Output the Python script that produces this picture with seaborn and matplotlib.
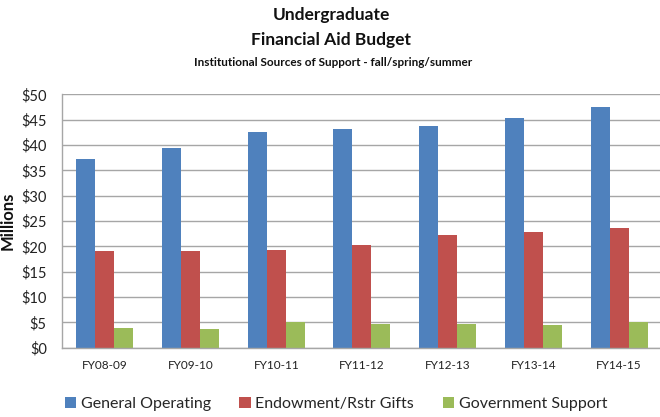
import matplotlib
matplotlib.use("Agg")
import matplotlib.pyplot as plt
import seaborn as sns
import pandas as pd

years = ["FY08-09", "FY09-10", "FY10-11", "FY11-12", "FY12-13", "FY13-14", "FY14-15"]
series_names = ["General Operating", "Endowment/Rstr Gifts", "Government Support"]
general_operating = [37.2, 39.5, 42.5, 43.2, 43.8, 45.4, 47.5]
endowment_gifts = [19.1, 19.1, 19.3, 20.3, 22.3, 22.8, 23.6]
government_support = [3.9, 3.6, 5.0, 4.7, 4.7, 4.5, 5.0]
y_ticks = [0, 5, 10, 15, 20, 25, 30, 35, 40, 45, 50]
colors = ["#4F81BD", "#C0504D", "#9BBB59"]

rows = []
for name, vals in zip(series_names, [general_operating, endowment_gifts, government_support]):
    for yr, v in zip(years, vals):
        rows.append({"Year": yr, "Source": name, "Amount": v})
df = pd.DataFrame(rows)

sns.set_theme(style="white")
plt.rcParams["font.family"] = ["Lato", "DejaVu Sans"]

W, H = 660, 417
fig = plt.figure(figsize=(W / 100, H / 100), dpi=100)
left, right, top, bottom = 62, 662, 94.3, 347.7
ax = fig.add_axes([left / W, (H - bottom) / H, (right - left) / W, (bottom - top) / H])

sns.barplot(data=df, x="Year", y="Amount", hue="Source", order=years,
            hue_order=series_names, palette=colors, width=0.665,
            saturation=1, ax=ax, legend=True, edgecolor="none", linewidth=0)

ax.set_ylim(0, 50)
ax.set_xlim(-0.5, 6.5)
ax.set_yticks(y_ticks)
ax.set_yticklabels([f"${t}" for t in y_ticks], fontsize=10.5, color="#222222")
ax.tick_params(axis="x", labelsize=8.5, colors="#222222", length=0, pad=9)
ax.tick_params(axis="y", length=0, pad=11)
ax.yaxis.grid(True, color="#A6A6A6", linewidth=1)
ax.set_axisbelow(True)
for s in ["top", "right"]:
    ax.spines[s].set_visible(False)
for s in ["left", "bottom"]:
    ax.spines[s].set_color("#A6A6A6")
    ax.spines[s].set_linewidth(1)
ax.set_xlabel("")
ax.set_ylabel("Millions", fontsize=12, fontweight="bold", color="#111111")
ax.yaxis.set_label_coords(-(62 - 16) / 600, 0.5)

handles, labels = ax.get_legend_handles_labels()
ax.get_legend().remove()
fig.legend(handles, labels, loc="center", bbox_to_anchor=(336 / W, 1 - 404 / H), ncol=3,
           frameon=False, fontsize=11.5, handlelength=0.7, handleheight=0.7,
           handletextpad=0.3, columnspacing=1.8)

fig.text(0.502, 1 - 15 / H, "Undergraduate", ha="center", va="center",
         fontsize=12.5, fontweight="bold", color="#111111")
fig.text(0.502, 1 - 40 / H, "Financial Aid Budget", ha="center", va="center",
         fontsize=12.5, fontweight="bold", color="#111111")
fig.text(0.505, 1 - 62 / H, "Institutional Sources of Support - fall/spring/summer",
         ha="center", va="center", fontsize=8.5, fontweight="bold", color="#111111")

fig.savefig("out.png", dpi=100)
